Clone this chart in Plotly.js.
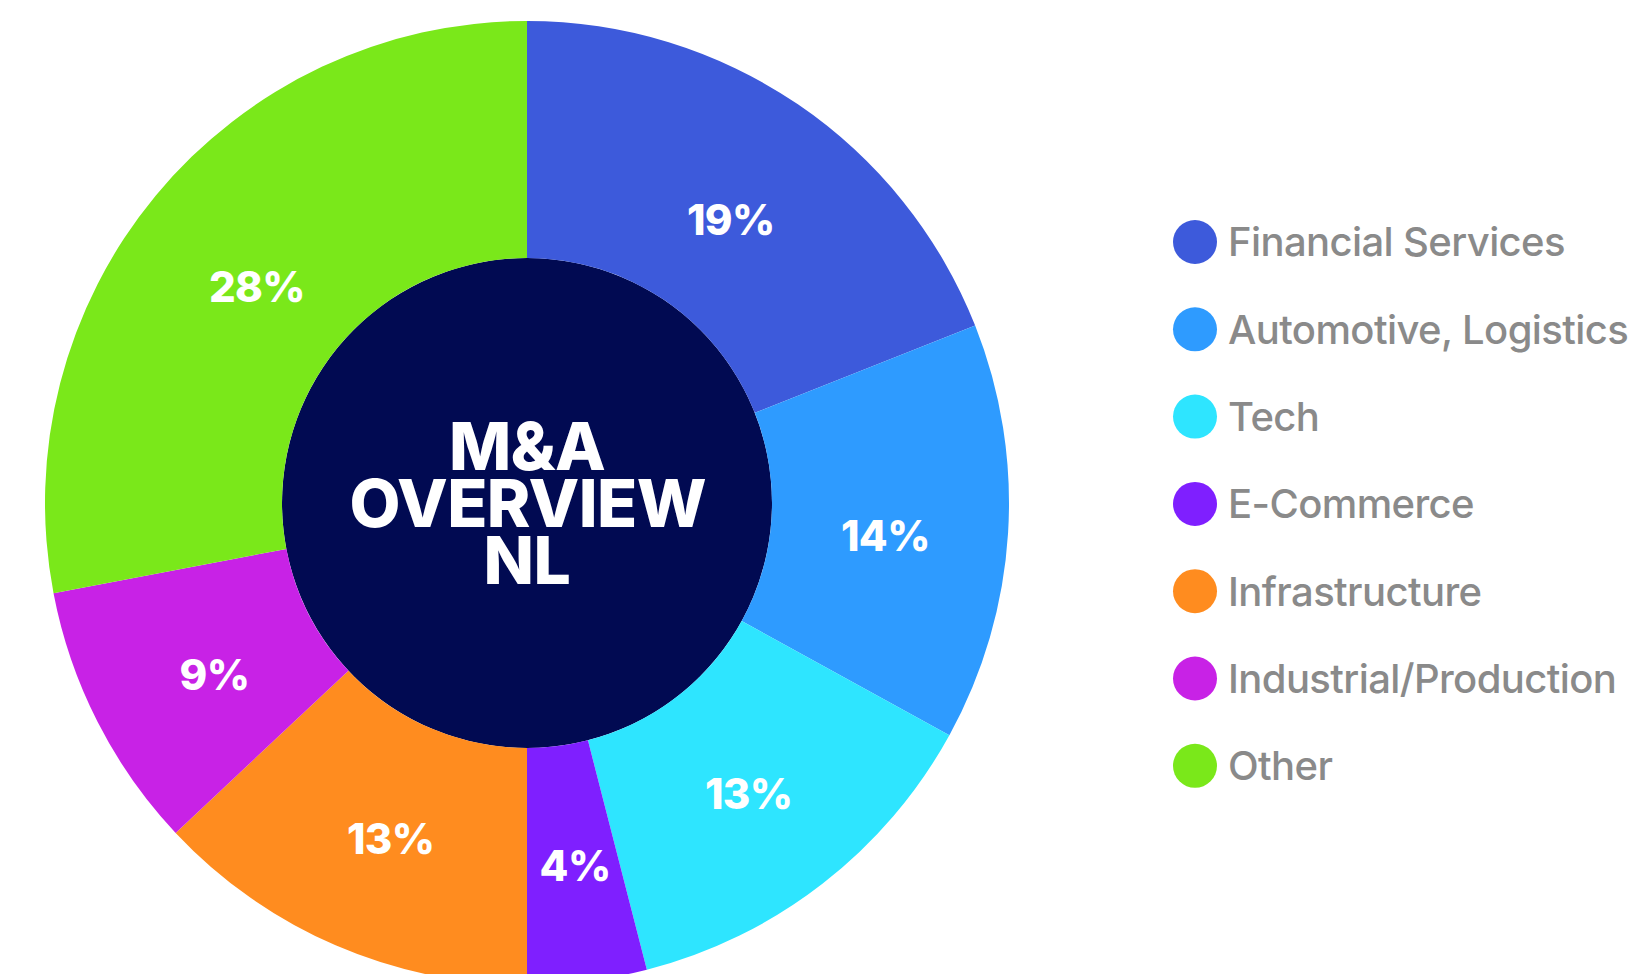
<!DOCTYPE html>
<html>
<head>
<meta charset="utf-8">
<script src="https://cdn.plot.ly/plotly-3.0.1.min.js"></script>
<style>
html,body{margin:0;padding:0;overflow:hidden;background:#fff;}
#chart{width:1630px;height:1006px;}
#chart .annotation-text{letter-spacing:-0.6px;}
</style>
</head>
<body>
<div id="chart"></div>
<script>
// ---- data ----
const categories = ["Financial Services","Automotive, Logistics","Tech","E-Commerce","Infrastructure","Industrial/Production","Other"];
const shares = [19, 14, 13, 4, 13, 9, 28];
const colors = ["#3d5adb","#2e9bff","#2ee5ff","#7f1fff","#ff8c1f","#c822e6","#7ae81a"];
const centerLines = ["M&A","OVERVIEW","NL"];

// ---- layout geometry (pixels) ----
const W = 1630, H = 1006;
const cx = 527, cy = 503, R = 482, Rin = 245;
const px = x => x / W;
const py = y => 1 - y / H;

const trace = {
  type: "pie",
  labels: categories,
  values: shares,
  marker: {colors: colors, line: {width: 0}},
  sort: false,
  direction: "clockwise",
  rotation: 0,
  hole: Rin / R,
  domain: {x: [px(cx - R), px(cx + R)], y: [py(cy + R), py(cy - R)]},
  textinfo: "none",
  hoverinfo: "label+percent",
  showlegend: false
};

const shapes = [{
  type: "circle", xref: "paper", yref: "paper", layer: "below",
  x0: px(cx - Rin), x1: px(cx + Rin), y0: py(cy + Rin), y1: py(cy - Rin),
  fillcolor: "#010a52", line: {width: 0}
}];
const annotations = [];

// slice value labels, placed at each slice's mid angle on the ring's middle
const total = shares.reduce((a, b) => a + b, 0);
const labelR = 355;
let cum = 0;
shares.forEach((v, i) => {
  const mid = (cum + v / 2) / total * 2 * Math.PI; // clockwise from 12 o'clock
  cum += v;
  annotations.push({
    text: v + "%", xref: "paper", yref: "paper", showarrow: false,
    x: px(cx + labelR * Math.sin(mid)), y: py(cy - labelR * Math.cos(mid)),
    xshift: 4, yshift: -10,
    xanchor: "center", yanchor: "middle",
    font: {family: "Inter, sans-serif", size: 42, color: "#ffffff", weight: 800}
  });
});

// center title
const lineGap = 57;
centerLines.forEach((t, i) => {
  annotations.push({
    text: t, xref: "paper", yref: "paper", showarrow: false,
    x: px(cx), y: py(cy + (i - 1) * lineGap), xanchor: "center", yanchor: "middle",
    font: {family: "Inter, sans-serif", size: 66, color: "#ffffff", weight: 800}
  });
});

// custom legend
const legX = 1195, legY0 = 242, legStep = 87.3, legR = 22;
categories.forEach((c, i) => {
  const y = legY0 + i * legStep;
  shapes.push({
    type: "circle", xref: "paper", yref: "paper",
    x0: px(legX - legR), x1: px(legX + legR), y0: py(y + legR), y1: py(y - legR),
    fillcolor: colors[i], line: {width: 0}
  });
  annotations.push({
    text: c, xref: "paper", yref: "paper", showarrow: false,
    x: px(legX + legR + 9), y: py(y), xanchor: "left", yanchor: "middle", align: "left",
    font: {family: "Inter, sans-serif", size: 40, color: "#8a8a8a", weight: 500}
  });
});

const layout = {
  width: W, height: H,
  margin: {l: 0, r: 0, t: 0, b: 0},
  paper_bgcolor: "#ffffff",
  showlegend: false,
  shapes: shapes,
  annotations: annotations
};

Plotly.newPlot("chart", [trace], layout, {displayModeBar: false, staticPlot: true});
</script>
</body>
</html>
